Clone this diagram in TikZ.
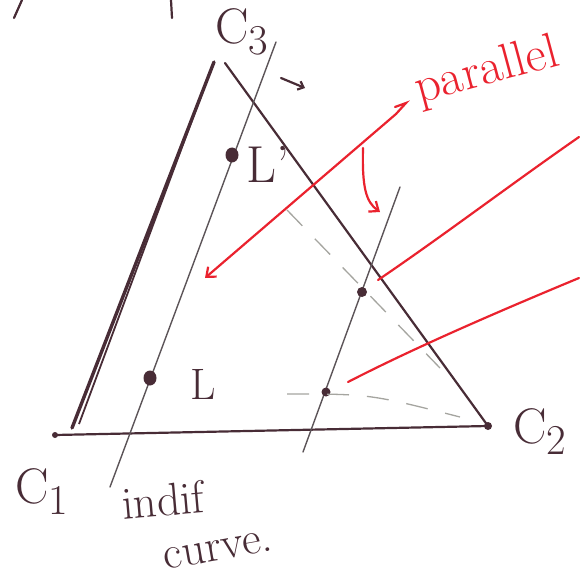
\documentclass[tikz,border=0pt]{standalone}
\usepackage{amsmath}
\usepackage{tikz}
\usetikzlibrary{arrows.meta,positioning,shapes.geometric}
\definecolor{InkPlum}{RGB}{72,44,54}
\definecolor{PencilGray}{RGB}{92,84,88}
\definecolor{PenRed}{RGB}{234,34,46}
\definecolor{FaintGray}{RGB}{165,165,160}
\newcommand{\lowidx}[1]{\raisebox{-0.22em}{\scalebox{0.85}{#1}}}

\begin{document}
\begin{tikzpicture}[x=1pt,y=-1pt,>={Straight Barb[length=8pt,width=13pt]},
  ink/.style={InkPlum,line width=2.2pt,line cap=round},
  pencil/.style={PencilGray,line width=1.4pt,line cap=round},
  redpen/.style={PenRed,line width=2.2pt,line cap=round},
  faint/.style={FaintGray,line width=1.3pt,dash pattern=on 22pt off 18pt},
  bundle/.style={fill=InkPlum,ellipse,inner sep=0pt,minimum width=13pt,minimum height=15pt},
  tag/.style={InkPlum,inner sep=0pt,font=\fontsize{50}{50}\selectfont}]
  \useasboundingbox (0,0) rectangle (579,580);
  % budget triangle
  \coordinate (v1) at (55,435);
  \coordinate (v2) at (488,426);
  \coordinate (v3l) at (214,62);
  \coordinate (v3r) at (225,63);
  \draw[ink] (v1) -- (v2);
  \draw[ink] (v3r) -- (v2);
  \draw[InkPlum,line width=3.4pt,line cap=round] (72,428) -- (v3l);
  \draw[InkPlum,line width=1.8pt] (79,424) -- (210,72);
  \fill[InkPlum] (v1) circle (3pt);
  \fill[InkPlum] (v2) circle (4pt);
  \node[tag] (c1) at (42,492) {C\lowidx{1}};
  \node[tag] (c2) at (540,432) {C\lowidx{2}};
  \node[tag] (c3) at (242,32) {C\lowidx{3}};
  % indifference lines
  \coordinate (ia) at (110,487);
  \coordinate (ib) at (276,42);
  \coordinate (ja) at (303,452);
  \coordinate (jb) at (400,187);
  \draw[pencil] (ia) -- (ib);
  \draw[pencil] (ja) -- (jb);
  \node[bundle] (lp) at (232,155) {};
  \node[bundle] (l) at (150,378) {};
  \node[bundle,minimum width=10pt,minimum height=10pt] (m1) at (362,292) {};
  \node[bundle,minimum width=9pt,minimum height=9pt] (m2) at (326,392) {};
  \node[tag,font=\fontsize{52}{52}\selectfont] (llp) at (268,164) {L'};
  \node[tag,font=\fontsize{44}{44}\selectfont] (ll) at (203,384) {L};
  \node[InkPlum,font=\fontsize{46}{46}\selectfont,rotate=5] (ind) at (163,500) {indif};
  \node[InkPlum,font=\fontsize{46}{46}\selectfont,rotate=10] (crv) at (218,550) {curve.};
  % faint level lines
  \draw[faint] (287,210) -- (440,368);
  \draw[faint] (287,394) .. controls (370,394) .. (460,417);
  % small arrow at the apex
  \coordinate (sa) at (281,78);
  \coordinate (sb) at (305,88);
  \draw[ink,->,>={Straight Barb[length=5pt,width=9pt]}] (sa) -- (sb);
  % marks cut off at the top
  \draw[ink] (14,18) -- (22,0);
  \draw[ink] (172,18) -- (171,0);
  % red notes
  \node[PenRed,font=\fontsize{50}{50}\selectfont,rotate=15] (par) at (487,72) {parallel};
  \coordinate (hk) at (406,103);
  \coordinate (pa) at (205,278);
  \coordinate (pb) at (363,148);
  \coordinate (pc) at (380,212);
  \draw[redpen] (395,107) -- (hk) -- (396,114);
  \draw[redpen,->] (396,114) -- (pa);
  \draw[redpen,->] (pb) .. controls (362,188) and (366,202) .. (pc);
  \coordinate (ra) at (378,280);
  \coordinate (rb) at (579,137);
  \coordinate (qa) at (348,382);
  \coordinate (qb) at (579,278);
  \draw[redpen] (ra) .. controls (440,238) and (510,185) .. (rb);
  \draw[redpen] (qa) .. controls (410,350) and (490,315) .. (qb);
\end{tikzpicture}
\end{document}
